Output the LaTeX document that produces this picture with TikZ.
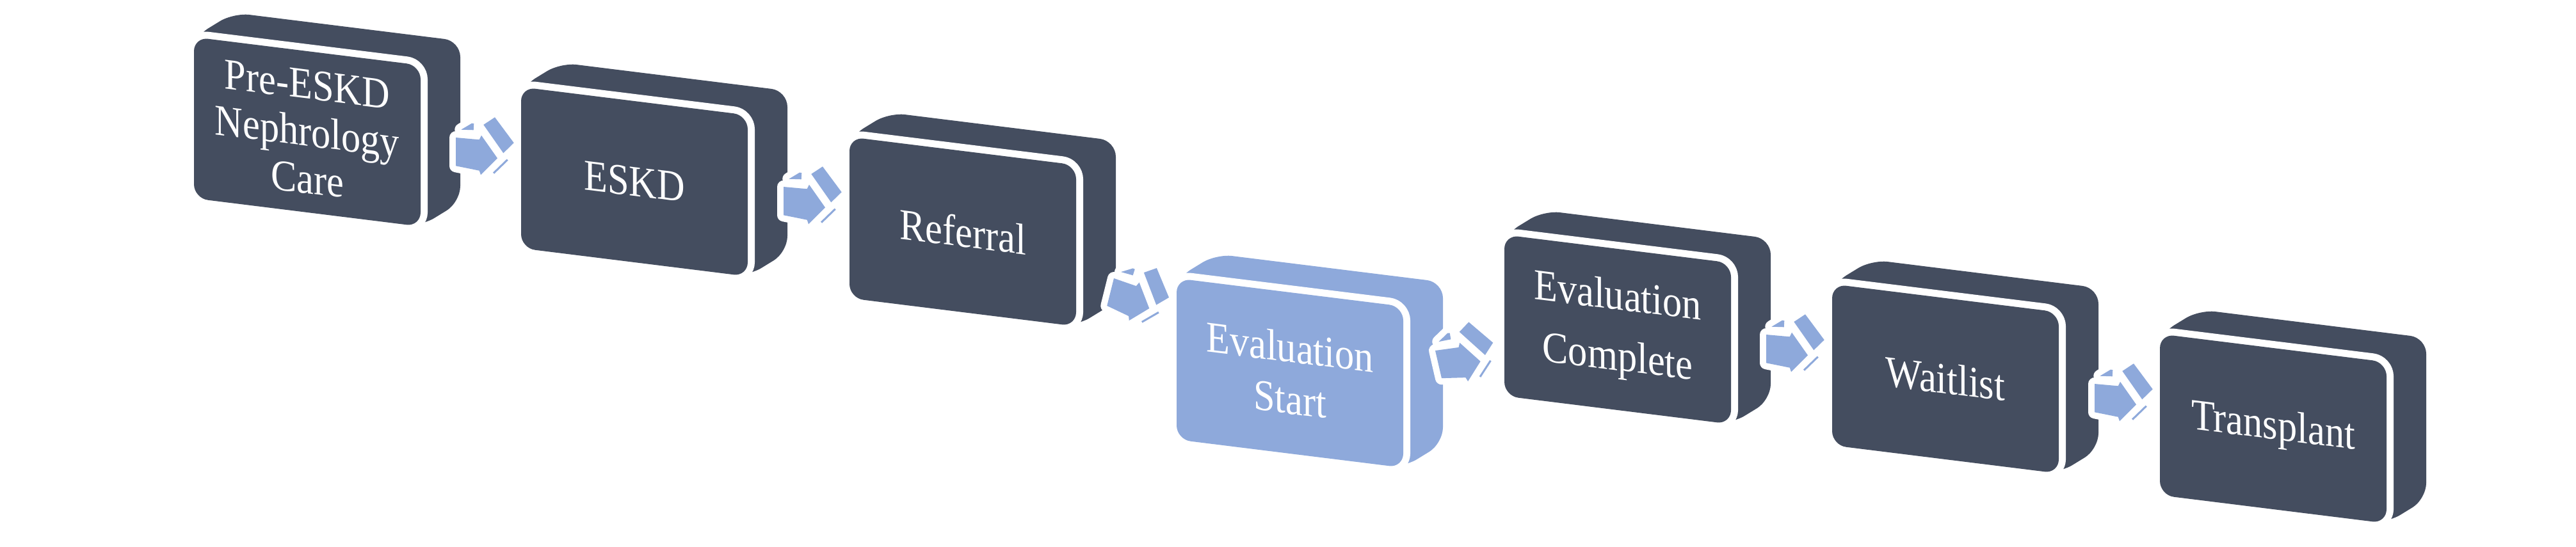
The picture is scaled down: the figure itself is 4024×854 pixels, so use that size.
\documentclass[tikz,border=0pt]{standalone}
\usepackage{fontspec}
\setmainfont{Liberation Serif}
\usepackage{tikz}
\usetikzlibrary{calc}
\definecolor{blockslate}{RGB}{68, 77, 95}
\definecolor{blockblue}{RGB}{142, 169, 219}

\begin{document}
\begin{tikzpicture}[
  x=0.01cm, y=-0.01cm,
  body/.style={rounded corners=0.25cm},
  face/.style={rounded corners=0.22cm},
  gap/.style={draw=white, line width=0.22cm, line join=round},
  halo/.style={draw=white, line width=0.2cm, line join=round},
  boxtext/.style={
    text=white, align=center, inner sep=0pt,
    font=\fontsize{19.5}{27}\selectfont,
    yslant=-0.125, xscale=0.88
  },
  tighttext/.style={boxtext, font=\fontsize{19.5}{21}\selectfont},
  starttext/.style={boxtext, font=\fontsize{19.5}{23}\selectfont}
]
  \useasboundingbox (0,0) rectangle (4024,854);

  % Blocchi 3D (corpo, fessura bianca, faccia frontale, testo)
  \foreach \x/\y/\col/\name/\sty/\txt in {
      303/58/blockslate/pre/tighttext/{Pre-ESKD\\Nephrology\\Care},
      814/136/blockslate/eskd/boxtext/ESKD,
      1327/214/blockslate/referral/boxtext/Referral,
      1838/435/blockblue/evalstart/starttext/{Evaluation\\Start},
      2350/367/blockslate/evalcomplete/boxtext/{Evaluation\\Complete},
      2862/444/blockslate/waitlist/boxtext/Waitlist,
      3374/522/blockslate/transplant/boxtext/Transplant} {
    \fill[\col, body] (\x,\y) -- (\x+62,\y-38) -- (\x+416,\y+6)
      -- (\x+416,\y+258) -- (\x+354,\y+296) -- (\x,\y+252) -- cycle;
    \draw[gap, face] (\x,\y) -- (\x+354,\y+44) -- (\x+354,\y+296)
      -- (\x,\y+252) -- cycle;
    \fill[\col, face] (\x,\y) -- (\x+354,\y+44) -- (\x+354,\y+296)
      -- (\x,\y+252) -- cycle;
    \node[\sty] (\name) at (\x+177,\y+148) {\txt};
  }

  % Frecce 3D tra i blocchi
  \foreach \ax/\ay/\ang in {712/215/0, 1224/292/0, 1740/435/-14,
      2242/548/13, 2759/523/0, 3272/600/0} {
    \begin{scope}[shift={(\ax,\ay)}, rotate=\ang]
      \draw[halo] (0,0) -- (36.7,3.3) -- (40,-3.3) -- (65,32.3) -- (39,58.3)
        -- (36.7,51.7) -- (0,44.3) -- cycle;
      \draw[halo] (8.3,-12.3) -- (25,-22.3) -- (28.3,-21.7) -- (27.7,-11.7) -- cycle;
      \draw[halo] (43.3,-20) -- (61,-31.7) -- (90.7,8.3) -- (74.3,24.3) -- cycle;
      \fill[blockblue] (0,0) -- (36.7,3.3) -- (40,-3.3) -- (65,32.3) -- (39,58.3)
        -- (36.7,51.7) -- (0,44.3) -- cycle;
      \fill[blockblue] (8.3,-12.3) -- (25,-22.3) -- (28.3,-21.7) -- (27.7,-11.7) -- cycle;
      \fill[blockblue] (43.3,-20) -- (61,-31.7) -- (90.7,8.3) -- (74.3,24.3) -- cycle;
      \draw[blockblue, line width=0.03cm] (59,55.7) -- (80.7,34.7);
    \end{scope}
  }
\end{tikzpicture}
\end{document}
